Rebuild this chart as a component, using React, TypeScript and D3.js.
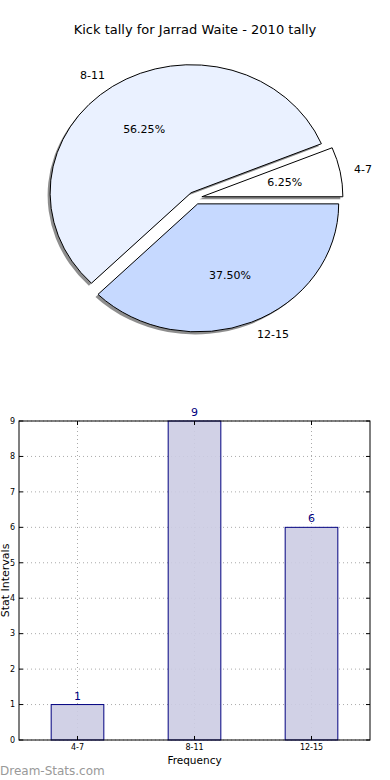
import React from 'react';
import * as d3 from 'd3';

// pie data
const pieLabels = ['4-7', '8-11', '12-15'];
const pieValues = [1, 9, 6];
const pieColors = ['#ffffff', '#eaf1ff', '#c6d9ff'];

// bar data
const barCategories = ['4-7', '8-11', '12-15'];
const barValues = [1, 9, 6];
const yTicks = [0, 1, 2, 3, 4, 5, 6, 7, 8, 9];

const FONT = 'DejaVu Sans, sans-serif';

const App = () => {
  // ---- pie geometry ----
  const cx = 195, cy = 198, r = 141, sy = 128 / 141;
  const explode = 7;

  // matplotlib pie starts at 3 o'clock and goes counter-clockwise
  const pie = d3.pie<number>().sort(null).startAngle(Math.PI / 2).endAngle(Math.PI / 2 - 2 * Math.PI);
  const arcs = pie(pieValues);
  const arc = d3.arc<any>().innerRadius(0).outerRadius(r);
  const total = d3.sum(pieValues);

  const wedges = arcs.map((a, i) => {
    const mid = (a.startAngle + a.endAngle) / 2;
    const ux = Math.sin(mid), uy = -Math.cos(mid);
    return { a, i, ux, uy, ox: ux * explode, oy: uy * explode };
  });

  // ---- bar geometry ----
  const x = d3.scaleLinear().domain([-0.5, 2.5]).range([19, 370]);
  const y = d3.scaleLinear().domain([0, 9]).range([740, 421]);
  const bw = x(0.45) - x(0);

  return (
    <svg width={390} height={780} style={{ position: 'absolute', left: 0, top: 0, background: '#fff' }} fontFamily={FONT}>
      <text x={195} y={34} textAnchor="middle" fontSize={13} fill="#000">Kick tally for Jarrad Waite - 2010 tally</text>

      {/* pie */}
      <g transform={`translate(${cx},${cy}) scale(1,${sy})`}>
        {wedges.map(w => (
          <g key={w.i}>
            <path d={arc(w.a) as string} transform={`translate(${w.ox - 2.5},${w.oy + 2.8})`}
              fill="#7a7a7a" opacity={0.85} stroke="none" />
            <path d={arc(w.a) as string} transform={`translate(${w.ox},${w.oy})`}
              fill={pieColors[w.i]} stroke="#000" strokeWidth={1} vectorEffect="non-scaling-stroke" />
          </g>
        ))}
      </g>
      {wedges.map(w => {
        const lx = cx + w.ox + w.ux * r * 1.1;
        const ly = cy + (w.oy + w.uy * r * 1.1) * sy;
        const px = cx + w.ox + w.ux * r * 0.6;
        const py = cy + (w.oy + w.uy * r * 0.6) * sy;
        return (
          <g key={'l' + w.i} fontSize={11}>
            <text x={lx} y={ly} dy="0.35em" textAnchor={w.ux > 0 ? 'start' : 'end'}>{pieLabels[w.i]}</text>
            <text x={px} y={py} dy="0.35em" textAnchor="middle">{(pieValues[w.i] / total * 100).toFixed(2)}%</text>
          </g>
        );
      })}

      {/* bar chart */}
      <g>
        {yTicks.map(t => (
          <g key={'gy' + t}>
            <line x1={x(-0.5)} x2={x(2.5)} y1={y(t)} y2={y(t)} stroke="#aaa" strokeDasharray="1,3" />
            <line x1={x(-0.5)} x2={x(-0.5) + 4} y1={y(t)} y2={y(t)} stroke="#000" />
            <line x1={x(2.5)} x2={x(2.5) - 4} y1={y(t)} y2={y(t)} stroke="#000" />
            <text x={x(-0.5) - 4} y={y(t)} dy="0.35em" textAnchor="end" fontSize={8}>{t}</text>
          </g>
        ))}
        {barCategories.map((c, i) => (
          <line key={'gx' + i} x1={x(i)} x2={x(i)} y1={y(0)} y2={y(9)} stroke="#aaa" strokeDasharray="1,3" />
        ))}
        {barValues.map((v, i) => (
          <g key={'b' + i}>
            <rect x={x(i) - bw / 2} y={y(v)} width={bw} height={y(0) - y(v)}
              fill="#cccce3" fillOpacity={0.9} stroke="#000080" strokeWidth={1} />
            <text x={x(i)} y={y(v) - 5} textAnchor="middle" fontSize={11} fill="#000080">{v}</text>
          </g>
        ))}
        {barCategories.map((c, i) => (
          <g key={'tx' + i}>
            <line x1={x(i)} x2={x(i)} y1={y(0)} y2={y(0) - 4} stroke="#000" />
            <line x1={x(i)} x2={x(i)} y1={y(9)} y2={y(9) + 4} stroke="#000" />
            <text x={x(i)} y={y(0) + 10} textAnchor="middle" fontSize={8}>{c}</text>
          </g>
        ))}
        <rect x={x(-0.5)} y={y(9)} width={x(2.5) - x(-0.5)} height={y(0) - y(9)} fill="none" stroke="#000" strokeWidth={1} />
        <text x={x(1)} y={764} textAnchor="middle" fontSize={10.5}>Frequency</text>
        <text transform={`translate(9,${(y(0) + y(9)) / 2}) rotate(-90)`} textAnchor="middle" fontSize={11}>Stat Intervals</text>
      </g>

      <text x={0} y={775} fontSize={12} fill="#999">Dream-Stats.com</text>
    </svg>
  );
};

export default App;
